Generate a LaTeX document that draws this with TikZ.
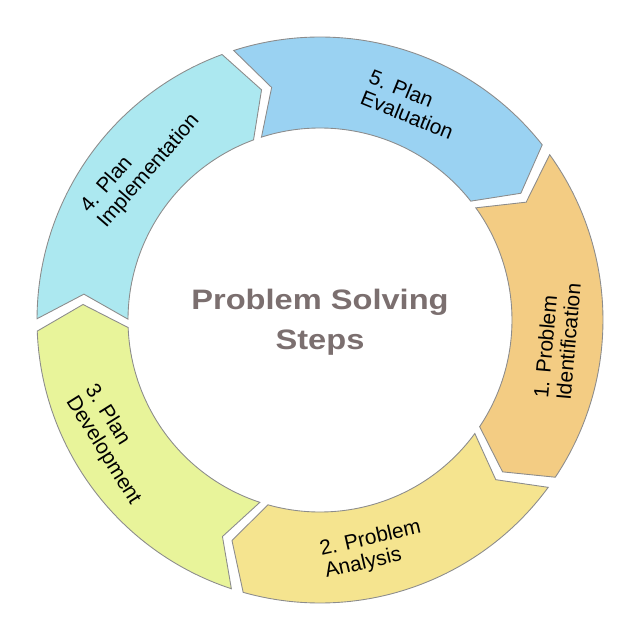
\documentclass[tikz,border=0pt]{standalone}
\usepackage{fontspec}
\setmainfont{Liberation Sans}
\usepackage{tikz}
\usetikzlibrary{positioning}
\usetikzlibrary{calc}

\definecolor{segOne}{RGB}{243,204,131}
\definecolor{segTwo}{RGB}{245,228,143}
\definecolor{segThree}{RGB}{232,244,154}
\definecolor{segFour}{RGB}{172,232,240}
\definecolor{segFive}{RGB}{154,210,242}
\definecolor{ringEdge}{RGB}{140,140,140}
\definecolor{titleGray}{RGB}{123,111,111}

\tikzset{
	ringseg/.style={draw=ringEdge, line width=0.5pt, line join=miter},
	steplabel/.style={align=left, inner sep=0pt, font=\fontsize{11.9}{12.8}\selectfont},
	titlelabel/.style={align=center, inner sep=0pt, text=titleGray,
		font=\fontsize{16}{22.8}\selectfont\bfseries}
}

\begin{document}
\begin{tikzpicture}[x=0.02cm, y=0.02cm]

	% Proper size --- Bounding box
	\useasboundingbox (-320,-320) rectangle (320,320);

	% ------------------------------------------------
	% RING: outer 283, inner 192, tip at 237.5
	% ------------------------------------------------
	\coordinate (C) at (0,0);

	% 1. Problem Identification
	\draw[ringseg, fill=segOne] (35.75:283) arc[start angle=35.75, end angle=-33.75, radius=283]
		-- (-39.75:237.5) -- (-33.75:192)
		arc[start angle=-33.75, end angle=35.75, radius=192]
		-- (29.75:237.5) -- cycle;

	% 2. Problem Analysis
	\draw[ringseg, fill=segTwo] (-36.25:283) arc[start angle=-36.25, end angle=-105.75, radius=283]
		-- (-111.75:237.5) -- (-105.75:192)
		arc[start angle=-105.75, end angle=-36.25, radius=192]
		-- (-42.25:237.5) -- cycle;

	% 3. Plan Development
	\draw[ringseg, fill=segThree] (-108.25:283) arc[start angle=-108.25, end angle=-177.75, radius=283]
		-- (-183.75:237.5) -- (-177.75:192)
		arc[start angle=-177.75, end angle=-108.25, radius=192]
		-- (-114.25:237.5) -- cycle;

	% 4. Plan Implementation
	\draw[ringseg, fill=segFour] (179.75:283) arc[start angle=179.75, end angle=110.25, radius=283]
		-- (104.25:237.5) -- (110.25:192)
		arc[start angle=110.25, end angle=179.75, radius=192]
		-- (173.75:237.5) -- cycle;

	% 5. Plan Evaluation
	\draw[ringseg, fill=segFive] (107.75:283) arc[start angle=107.75, end angle=38.25, radius=283]
		-- (32.25:237.5) -- (38.25:192)
		arc[start angle=38.25, end angle=107.75, radius=192]
		-- (101.75:237.5) -- cycle;

	% ------------------------------------------------
	% LABELS
	% ------------------------------------------------
	\node[steplabel, rotate=85]  (L1) at (-5:238)  {1. Problem\\Identification};
	\node[steplabel, rotate=13]  (L2) at (-77:236) {2. Problem\\Analysis};
	\node[steplabel, rotate=-58] (L3) at (211:242) {3. Plan\\Development};
	\node[steplabel, rotate=49]  (L4) at (139:238) {4. Plan\\Implementation};
	\node[steplabel, rotate=-22] (L5) at (67:234)  {5. Plan\\Evaluation};

	% Centre title
	\node[titlelabel, xscale=1.16, transform shape] (T) at (0,-2) {Problem Solving\\Steps};

\end{tikzpicture}
\end{document}
